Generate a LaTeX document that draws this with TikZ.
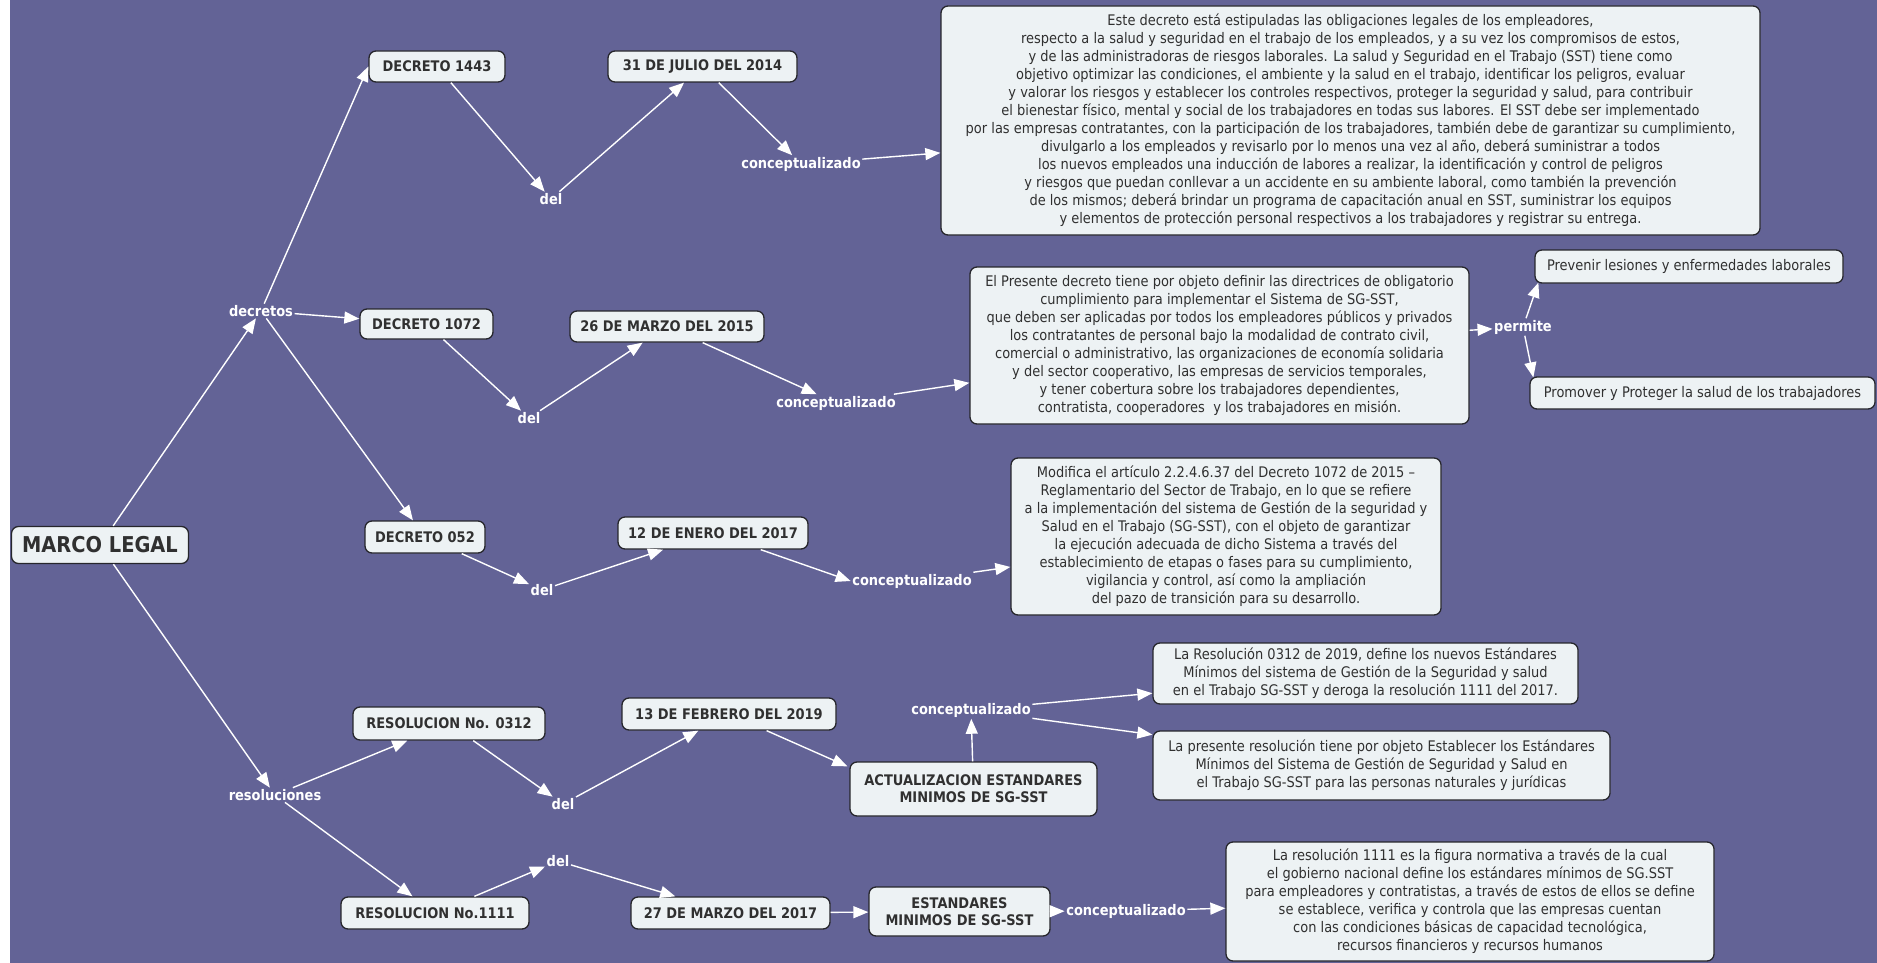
\documentclass[tikz,border=0pt]{standalone}
\usepackage{fontspec}
\setmainfont{DejaVu Sans}[FakeStretch=0.89]
\usetikzlibrary{arrows.meta}
\definecolor{bg}{RGB}{99,99,150}
\definecolor{boxfill}{RGB}{237,242,244}
\definecolor{boxline}{RGB}{38,38,44}
\definecolor{boxtext}{RGB}{48,48,48}
\tikzset{
  concept/.style={draw=boxline, line width=1.3pt, fill=boxfill, rounded corners=7pt,
    text=boxtext, font=\fontsize{14.6}{17}\selectfont\bfseries, align=center, inner sep=3pt},
  textbox/.style={draw=boxline, line width=1.3pt, fill=boxfill, rounded corners=7pt,
    text=boxtext, font=\fontsize{14.6}{18}\selectfont, align=center, inner sep=3pt},
  linklabel/.style={text=white, font=\fontsize{14.6}{16}\selectfont\bfseries, inner sep=1.5pt},
  link/.style={draw=white, line width=1.4pt, -{Triangle[length=15pt,width=12pt]}},
}
\begin{document}
\begin{tikzpicture}[x=1pt,y=-1pt]
\useasboundingbox (0,0) rectangle (1877,963);
\fill[bg] (0,0) rectangle (1877,963);
\fill[white] (0,0) rectangle (10,963);

% concepts
\node[concept, font=\fontsize{21.8}{24}\selectfont\bfseries, minimum width=177pt, minimum height=37pt] (ml) at (100,545) {MARCO LEGAL};
\node[concept, minimum width=136pt, minimum height=31pt] (d1443) at (437,66.5) {DECRETO 1443};
\node[concept, minimum width=189pt, minimum height=31pt] (f2014) at (702.5,66.5) {31 DE JULIO DEL 2014};
\node[concept, minimum width=133pt, minimum height=30pt] (d1072) at (426.5,324) {DECRETO 1072};
\node[concept, minimum width=194pt, minimum height=31pt] (f2015) at (667,326.5) {26 DE MARZO DEL 2015};
\node[concept, minimum width=120pt, minimum height=32pt] (d052) at (425,537) {DECRETO 052};
\node[concept, minimum width=190pt, minimum height=32pt] (f2017a) at (713,533) {12 DE ENERO DEL 2017};
\node[concept, minimum width=192pt, minimum height=33pt] (r0312) at (449,723.5) {RESOLUCION No. 0312};
\node[concept, minimum width=214pt, minimum height=32pt] (f2019) at (729,714) {13 DE FEBRERO DEL 2019};
\node[concept, minimum width=247pt, minimum height=54pt] (act) at (973.5,789) {ACTUALIZACION ESTANDARES\\MINIMOS DE SG-SST};
\node[concept, minimum width=188pt, minimum height=32pt] (r1111) at (435,913) {RESOLUCION No.1111};
\node[concept, minimum width=199pt, minimum height=32pt] (f2017b) at (730.5,913) {27 DE MARZO DEL 2017};
\node[concept, minimum width=181pt, minimum height=49pt] (est) at (959.5,911.5) {ESTANDARES\\MINIMOS DE SG-SST};

% text boxes
\node[textbox, minimum width=819pt, minimum height=229pt] (b1) at (1350.5,120.5) {Este decreto está estipuladas las obligaciones legales de los empleadores,\\
respecto a la salud y seguridad en el trabajo de los empleados, y a su vez los compromisos de estos,\\
y de las administradoras de riesgos laborales. La salud y Seguridad en el Trabajo (SST) tiene como\\
objetivo optimizar las condiciones, el ambiente y la salud en el trabajo, identificar los peligros, evaluar\\
y valorar los riesgos y establecer los controles respectivos, proteger la seguridad y salud, para contribuir\\
el bienestar físico, mental y social de los trabajadores en todas sus labores. El SST debe ser implementado\\
por las empresas contratantes, con la participación de los trabajadores, también debe de garantizar su cumplimiento,\\
divulgarlo a los empleados y revisarlo por lo menos una vez al año, deberá suministrar a todos\\
los nuevos empleados una inducción de labores a realizar, la identificación y control de peligros\\
y riesgos que puedan conllevar a un accidente en su ambiente laboral, como también la prevención\\
de los mismos; deberá brindar un programa de capacitación anual en SST, suministrar los equipos\\
y elementos de protección personal respectivos a los trabajadores y registrar su entrega.};
\node[textbox, minimum width=499pt, minimum height=157pt] (b2) at (1219.5,345.5) {El Presente decreto tiene por objeto definir las directrices de obligatorio\\
cumplimiento para implementar el Sistema de SG-SST,\\
que deben ser aplicadas por todos los empleadores públicos y privados\\
los contratantes de personal bajo la modalidad de contrato civil,\\
comercial o administrativo, las organizaciones de economía solidaria\\
y del sector cooperativo, las empresas de servicios temporales,\\
y tener cobertura sobre los trabajadores dependientes,\\
contratista, cooperadores\ \ y los trabajadores en misión.};
\node[textbox, minimum width=308pt, minimum height=33pt] (prev) at (1689,266.5) {Prevenir lesiones y enfermedades laborales};
\node[textbox, minimum width=345pt, minimum height=32pt] (prom) at (1702.5,393) {Promover y Proteger la salud de los trabajadores};
\node[textbox, minimum width=430pt, minimum height=157pt] (b3) at (1226,536.5) {Modifica el artículo 2.2.4.6.37 del Decreto 1072 de 2015 –\\
Reglamentario del Sector de Trabajo, en lo que se refiere\\
a la implementación del sistema de Gestión de la seguridad y\\
Salud en el Trabajo (SG-SST), con el objeto de garantizar\\
la ejecución adecuada de dicho Sistema a través del\\
establecimiento de etapas o fases para su cumplimiento,\\
vigilancia y control, así como la ampliación\\
del pazo de transición para su desarrollo.};
\node[textbox, minimum width=425pt, minimum height=61pt] (b4) at (1365.5,673.5) {La Resolución 0312 de 2019, define los nuevos Estándares\\
Mínimos del sistema de Gestión de la Seguridad y salud\\
en el Trabajo SG-SST y deroga la resolución 1111 del 2017.};
\node[textbox, minimum width=457pt, minimum height=69pt] (b5) at (1381.5,765.5) {La presente resolución tiene por objeto Establecer los Estándares\\
Mínimos del Sistema de Gestión de Seguridad y Salud en\\
el Trabajo SG-SST para las personas naturales y jurídicas};
\node[textbox, minimum width=488pt, minimum height=119pt] (b6) at (1470,901.5) {La resolución 1111 es la figura normativa a través de la cual\\
el gobierno nacional define los estándares mínimos de SG.SST\\
para empleadores y contratistas, a través de estos de ellos se define\\
se establece, verifica y controla que las empresas cuentan\\
con las condiciones básicas de capacidad tecnológica,\\
recursos financieros y recursos humanos};

% link labels
\node[linklabel] (decretos) at (261,311) {decretos};
\node[linklabel] (del1) at (551,199) {del};
\node[linklabel] (c1) at (801,164) {conceptualizado};
\node[linklabel] (del2) at (529,418) {del};
\node[linklabel] (c2) at (836,403) {conceptualizado};
\node[linklabel] (permite) at (1523,327) {permite};
\node[linklabel] (del3) at (542,590) {del};
\node[linklabel] (c3) at (912,581) {conceptualizado};
\node[linklabel] (resol) at (275,795) {resoluciones};
\node[linklabel] (del4) at (563,804) {del};
\node[linklabel] (c4) at (971,710) {conceptualizado};
\node[linklabel] (del5) at (558,861) {del};
\node[linklabel] (c5) at (1126,911) {conceptualizado};

% connectors
\draw[link] (ml) -- (decretos);
\draw[link] (ml) -- (resol);
\draw[link] (decretos) -- (d1443.west);
\draw[link] (decretos) -- (d1072);
\draw[link] (decretos) -- (d052);
\draw[link] (d1443) -- (del1);
\draw[link] (del1) -- (f2014);
\draw[link] (f2014) -- (c1);
\draw[link] (c1) -- (b1);
\draw[link] (d1072) -- (del2);
\draw[link] (del2) -- (f2015);
\draw[link] (f2015) -- (c2);
\draw[link] (c2) -- (b2);
\draw[link] (b2) -- (permite);
\draw[link] (permite) -- ([xshift=4pt,yshift=1pt]prev.south west);
\draw[link] (permite) -- ([xshift=4pt,yshift=-1pt]prom.north west);
\draw[link] (d052) -- (del3);
\draw[link] (del3) -- (f2017a);
\draw[link] (f2017a) -- (c3.west);
\draw[link] (c3) -- (b3);
\draw[link] (resol) -- (r0312);
\draw[link] (r0312) -- (del4);
\draw[link] (del4) -- (f2019);
\draw[link] (f2019) -- ([xshift=-2pt,yshift=-5pt]act.north west);
\draw[link] (act) -- (c4);
\draw[link] (c4) -- (b4);
\draw[link] (c4) -- (b5);
\draw[link] (resol) -- (r1111);
\draw[link] (r1111) -- (del5);
\draw[link] (del5) -- (f2017b);
\draw[link] (f2017b) -- (est);
\draw[link] (est) -- (c5);
\draw[link] (c5) -- (b6);
\end{tikzpicture}
\end{document}
